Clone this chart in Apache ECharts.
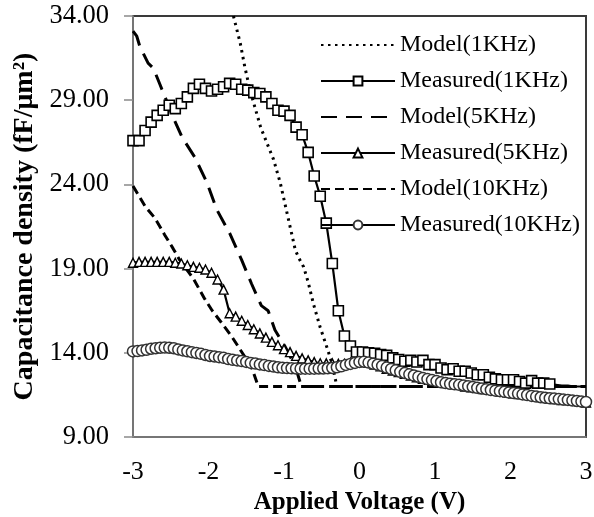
<!DOCTYPE html>
<html><head><meta charset="utf-8">
<script src="https://cdn.jsdelivr.net/npm/echarts@6.0.0/dist/echarts.min.js"></script>
<style>html,body{margin:0;padding:0;background:#fff}#c{width:594px;height:517px}</style>
</head><body><div id="c"></div><script>
// ---- data ----
const xTicks = [-3, -2, -1, 0, 1, 2, 3];
const yTicks = [9, 14, 19, 24, 29, 34];

const voltSq = [-3.00,-2.92,-2.84,-2.76,-2.68,-2.60,-2.52,-2.44,-2.36,-2.28,-2.20,-2.12,-2.04,-1.96,-1.88,-1.80,-1.72,-1.64,-1.56,-1.48,-1.40,-1.32,-1.24,-1.16,-1.08,-1.00,-0.92,-0.84,-0.76,-0.68,-0.60,-0.52,-0.44,-0.36,-0.28,-0.20,-0.12,-0.04,0.04,0.12,0.20,0.28,0.36,0.44,0.52,0.60,0.68,0.76,0.84,0.92,1.00,1.08,1.16,1.24,1.32,1.40,1.48,1.56,1.64,1.72,1.80,1.88,1.96,2.04,2.12,2.20,2.28,2.36,2.44,2.52,2.60,2.68,2.76,2.84,2.92,3.00];

const measured1k = [26.6,26.6,27.2,27.7,28.1,28.4,28.7,28.5,28.8,29.2,29.7,29.95,29.7,29.55,29.65,29.8,30.0,29.95,29.65,29.6,29.45,29.4,29.2,28.8,28.4,28.35,28.1,27.4,26.95,25.9,24.5,23.3,21.7,19.3,16.5,15.0,14.4,14.05,14.05,14.0,13.97,13.9,13.85,13.7,13.6,13.5,13.55,13.45,13.55,13.3,13.3,13.1,13.0,13.05,12.9,12.9,12.8,12.7,12.7,12.55,12.45,12.4,12.4,12.4,12.3,12.2,12.35,12.2,12.2,12.15,12.1,12.05,12.05,12.0,12.0,12.0];

const measured5k = [19.35,19.4,19.4,19.4,19.4,19.4,19.4,19.35,19.3,19.2,19.1,19.05,18.95,18.75,18.35,17.75,16.35,16.15,15.9,15.65,15.4,15.15,14.9,14.65,14.45,14.22,14.04,13.82,13.67,13.55,13.45,13.38,13.37,13.37,13.35,13.35,13.4,13.45,13.45,13.4,13.3,13.2,13.05,12.95,12.85,12.75,12.65,12.55,12.45,12.4,12.3,12.25,12.2,12.15,12.1,12.0,11.95,11.9,11.85,11.8,11.75,11.7,11.65,11.6,11.55,11.5,11.45,11.4,11.35,11.3,11.25,11.2,11.2,11.15,11.1,11.05];

const voltCi = [-3.00,-2.94,-2.88,-2.82,-2.76,-2.70,-2.64,-2.58,-2.52,-2.46,-2.40,-2.34,-2.28,-2.22,-2.16,-2.10,-2.04,-1.98,-1.92,-1.86,-1.80,-1.74,-1.68,-1.62,-1.56,-1.50,-1.44,-1.38,-1.32,-1.26,-1.20,-1.14,-1.08,-1.02,-0.96,-0.90,-0.84,-0.78,-0.72,-0.66,-0.60,-0.54,-0.48,-0.42,-0.36,-0.30,-0.24,-0.18,-0.12,-0.06,0.00,0.06,0.12,0.18,0.24,0.30,0.36,0.42,0.48,0.54,0.60,0.66,0.72,0.78,0.84,0.90,0.96,1.02,1.08,1.14,1.20,1.26,1.32,1.38,1.44,1.50,1.56,1.62,1.68,1.74,1.80,1.86,1.92,1.98,2.04,2.10,2.16,2.22,2.28,2.34,2.40,2.46,2.52,2.58,2.64,2.70,2.76,2.82,2.88,2.94,3.00];

const measured10k = [14.08,14.1,14.14,14.18,14.24,14.27,14.3,14.31,14.3,14.27,14.2,14.14,14.09,14.04,13.99,13.94,13.87,13.81,13.78,13.74,13.7,13.63,13.58,13.55,13.51,13.46,13.4,13.36,13.31,13.27,13.22,13.18,13.14,13.11,13.09,13.08,13.07,13.06,13.06,13.06,13.06,13.07,13.07,13.08,13.1,13.14,13.2,13.28,13.34,13.4,13.46,13.47,13.42,13.35,13.29,13.22,13.12,13.04,12.96,12.87,12.8,12.72,12.65,12.58,12.5,12.44,12.38,12.32,12.25,12.2,12.16,12.13,12.1,12.06,12.02,11.97,11.92,11.88,11.84,11.79,11.75,11.72,11.68,11.64,11.61,11.58,11.53,11.49,11.44,11.4,11.36,11.33,11.3,11.28,11.25,11.22,11.2,11.17,11.14,11.11,11.08];

const model1kV = [-1.67,-1.58,-1.52,-1.45,-1.38,-1.31,-1.23,-1.14,-1.05,-0.99,-0.92,-0.85,-0.80,-0.74,-0.68,-0.61,-0.52,-0.43,-0.36,-0.30,3.0];
const model1k  = [34.0,32.4,31.0,29.6,28.5,27.4,26.5,25.5,24.1,22.9,21.5,20.1,19.6,19.1,18.2,16.9,15.5,14.3,13.3,12.0,12.0];

const model5kV = [-3.0,-2.95,-2.91,-2.80,-2.73,-2.64,-2.55,-2.47,-2.35,-2.18,-2.02,-1.89,-1.72,-1.56,-1.43,-1.30,-1.21,-1.12,-0.99,-0.85,-0.77,3.0];
const model5k  = [33.1,32.8,32.2,31.2,30.9,29.9,28.9,28.0,26.8,25.6,24.1,22.5,21.1,19.5,18.1,16.8,16.5,15.35,14.4,13.2,12.0,12.0];

const model10kV = [-3.0,-2.84,-2.71,-2.58,-2.47,-2.38,-2.20,-2.05,-1.95,-1.83,-1.69,-1.56,-1.43,-1.34,3.0];
const model10k  = [23.9,22.7,22.0,21.0,20.2,19.5,18.4,17.2,16.5,15.8,14.95,14.05,13.15,12.0,12.0];

const names = ['Model(1KHz)','Measured(1KHz)','Model(5KHz)','Measured(5KHz)','Model(10KHz)','Measured(10KHz)'];

// ---- chart ----
const pair = (xs, ys) => xs.map((x, i) => [x, ys[i]]);
const FONT = '"Liberation Serif", "Times New Roman", serif';
const NOSYM = {color: 'rgba(0,0,0,0)', borderWidth: 0, opacity: 0};

const sqData = voltSq.map((x, i) => x > 2.56 ? {value: [x, measured1k[i]], symbol: 'none'} : [x, measured1k[i]]);

const chart = echarts.init(document.getElementById('c'), null, {renderer: 'canvas'});
chart.setOption({
  animation: false,
  backgroundColor: '#fff',
  grid: {left: 133, right: 8, top: 16, bottom: 80, show: true, borderColor: '#3a3a3a', borderWidth: 2, outerBoundsMode: 'none', containLabel: false},
  legend: {
    data: [
      {name: names[0], itemStyle: NOSYM},
      {name: names[1]},
      {name: names[2], itemStyle: NOSYM},
      {name: names[3]},
      {name: names[4], itemStyle: NOSYM},
      {name: names[5]}
    ],
    orient: 'vertical', left: 320, top: 33, padding: 0,
    itemWidth: 74, itemHeight: 11, itemGap: 12,
    textStyle: {fontFamily: FONT, fontSize: 24, color: '#000', lineHeight: 24}
  },
  xAxis: {
    type: 'value', min: xTicks[0], max: xTicks[xTicks.length - 1], interval: 1,
    axisLine: {show: true, onZero: false, lineStyle: {color: '#8a8a8a', width: 1.5}},
    axisTick: {show: false}, splitLine: {show: false},
    axisLabel: {fontFamily: FONT, fontSize: 26, color: '#000', margin: 22},
    name: 'Applied Voltage (V)', nameLocation: 'middle', nameGap: 47,
    nameTextStyle: {fontFamily: FONT, fontSize: 25, fontWeight: 'bold', color: '#000'}
  },
  yAxis: {
    type: 'value', min: yTicks[0], max: yTicks[yTicks.length - 1], interval: 5,
    axisLine: {show: true, onZero: false, lineStyle: {color: '#8a8a8a', width: 1.5}},
    axisTick: {show: true, length: 9, lineStyle: {color: '#8a8a8a', width: 1.5}},
    splitLine: {show: false},
    axisLabel: {fontFamily: FONT, fontSize: 26.5, color: '#000', margin: 24, formatter: v => v.toFixed(2)},
    name: 'Capacitance density (fF/\u03bcm\u00b2)', nameLocation: 'middle', nameGap: 89,
    nameTextStyle: {fontFamily: FONT, fontSize: 28, fontWeight: 'bold', color: '#000'}
  },
  series: [
    {name: names[0], type: 'line', data: pair(model1kV, model1k), symbol: 'none', clip: true,
     lineStyle: {color: '#000', width: 3, type: [2.5, 4.5]}, itemStyle: NOSYM},
    {name: names[1], type: 'line', data: sqData, symbol: 'rect', symbolSize: 10, showAllSymbol: true,
     lineStyle: {color: '#000', width: 2.2}, itemStyle: {color: '#fff', borderColor: '#000', borderWidth: 1.6}},
    {name: names[2], type: 'line', data: pair(model5kV, model5k), symbol: 'none', clip: true,
     lineStyle: {color: '#000', width: 3, type: [16, 9]}, itemStyle: NOSYM},
    {name: names[3], type: 'line', data: pair(voltSq, measured5k), symbol: 'triangle', symbolSize: 9, showAllSymbol: true,
     lineStyle: {color: '#000', width: 2.2}, itemStyle: {color: '#fff', borderColor: '#000', borderWidth: 1.4}},
    {name: names[4], type: 'line', data: pair(model10kV, model10k), symbol: 'none', clip: true,
     lineStyle: {color: '#000', width: 3, type: [9, 5]}, itemStyle: NOSYM},
    {name: names[5], type: 'line', data: pair(voltCi, measured10k), symbol: 'circle', symbolSize: 11, showAllSymbol: true,
     lineStyle: {color: '#000', width: 2.2}, itemStyle: {color: '#fff', borderColor: '#333', borderWidth: 1.5}}
  ]
});
</script></body></html>
